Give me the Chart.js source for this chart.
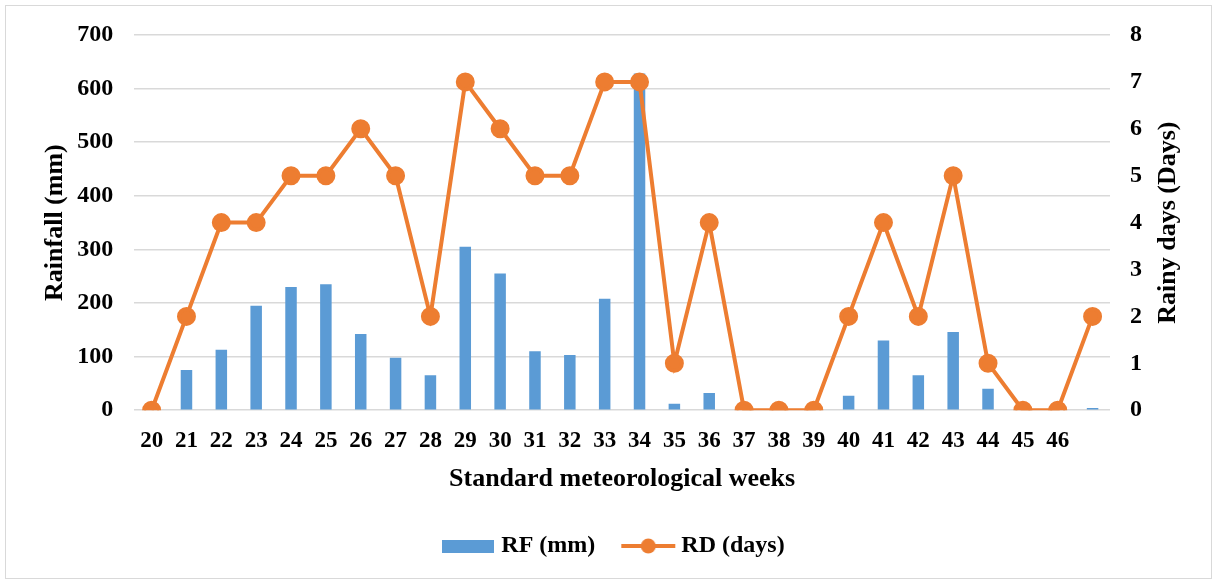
<!DOCTYPE html>
<html>
<head>
<meta charset="utf-8">
<script src="https://cdn.jsdelivr.net/npm/chart.js@4"></script>
<style>
  html, body { margin: 0; padding: 0; background: #fff; }
  #box {
    position: absolute; left: 5px; top: 5px;
    width: 1205px; height: 572px;
    border: 1px solid #d9d9d9;
  }
</style>
</head>
<body>
<div id="box"><canvas id="grafico"></canvas></div>
<script>
// Semanas meteorológicas (a última não tem rótulo)
const weeks = ["20","21","22","23","24","25","26","27","28","29","30","31","32","33",
  "34","35","36","37","38","39","40","41","42","43","44","45","46",""];
// Chuva semanal (mm)
const rainfall = [0, 75, 113, 195, 230, 235, 142, 98, 65, 305, 255, 110, 103, 208,
  628, 12, 32, 0, 0, 0, 27, 130, 65, 146, 40, 0, 0, 4];
// Dias de chuva
const rainyDays = [0, 2, 4, 4, 5, 5, 6, 5, 2, 7, 6, 5, 5, 7,
  7, 1, 4, 0, 0, 0, 2, 4, 2, 5, 1, 0, 0, 2];
const rfTicks = [0, 100, 200, 300, 400, 500, 600, 700];
const rdTicks = [0, 1, 2, 3, 4, 5, 6, 7, 8];

const blue = "#5b9bd5";
const orange = "#ed7d31";
const xFont = { family: "Liberation Serif", weight: "bold", size: 23 };
const yFont = { family: "Liberation Serif", weight: "bold", size: 24 };
const titleFont = { family: "Liberation Serif", weight: "bold", size: 26 };

// ícones da legenda
function barIcon() {
  const c = document.createElement("canvas");
  c.width = 52; c.height = 13;
  const g = c.getContext("2d");
  g.fillStyle = blue;
  g.fillRect(0, 0, 52, 13);
  return c;
}
function lineIcon() {
  const c = document.createElement("canvas");
  c.width = 56; c.height = 18;
  const g = c.getContext("2d");
  g.strokeStyle = orange;
  g.lineWidth = 4;
  g.beginPath(); g.moveTo(1, 9); g.lineTo(55, 9); g.stroke();
  g.fillStyle = orange;
  g.beginPath(); g.arc(28, 9, 7.5, 0, Math.PI * 2); g.fill();
  return c;
}
const icons = [barIcon(), lineIcon()];

// título do eixo direito, lido de baixo para cima
const rightTitle = {
  id: "rightTitle",
  afterDraw(chart) {
    const g = chart.ctx;
    g.save();
    g.translate(chart.width - 43, (chart.chartArea.top + chart.chartArea.bottom) / 2);
    g.rotate(-Math.PI / 2);
    g.font = "bold 26px 'Liberation Serif'";
    g.fillStyle = "#000";
    g.textAlign = "center";
    g.textBaseline = "middle";
    g.fillText("Rainy days (Days)", 0, 0);
    g.restore();
  },
};

// centra a legenda na página e não entre os paddings
const legendShift = {
  id: "legendShift",
  afterLayout(chart) {
    chart.legend.left += 25;
    chart.legend.right += 25;
  },
};

// o Chart.js reserva o padding dos ticks duas vezes; tira o excesso
const trimW = (axis) => {
  axis.width -= axis.options.ticks.padding;
  axis.paddingTop = 0;
};
const trimH = (axis) => { axis.height -= axis.options.ticks.padding; };

const ctx = document.getElementById("grafico").getContext("2d");

new Chart(ctx, {
  data: {
    labels: weeks,
    datasets: [
      {
        type: "line",
        label: "RD (days)",
        data: rainyDays,
        yAxisID: "y1",
        borderColor: orange,
        backgroundColor: orange,
        borderWidth: 4,
        pointRadius: 7.5,
        pointHoverRadius: 7.5,
        tension: 0,
        order: 1,
      },
      {
        type: "bar",
        label: "RF (mm)",
        data: rainfall,
        yAxisID: "y",
        backgroundColor: blue,
        barPercentage: 0.33,
        categoryPercentage: 1,
        order: 2,
      },
    ],
  },
  plugins: [rightTitle, legendShift],
  options: {
    responsive: true,
    maintainAspectRatio: false,
    animation: false,
    layout: { padding: { left: 34, right: 69, top: 29, bottom: 10 } },
    plugins: {
      tooltip: { enabled: false },
      legend: {
        position: "bottom",
        reverse: true,
        labels: {
          usePointStyle: true,
          pointStyleWidth: 42,
          color: "#000",
          font: yFont,
          padding: 32,
          generateLabels: (chart) => {
            const items = Chart.defaults.plugins.legend.labels.generateLabels(chart);
            items.forEach((it) => {
              it.pointStyle = it.datasetIndex === 1 ? icons[0] : icons[1];
            });
            return items;
          },
        },
      },
    },
    scales: {
      x: {
        grid: { display: false, drawTicks: false },
        border: { display: false },
        ticks: { color: "#000", font: xFont, maxRotation: 0, autoSkip: false, padding: 17 },
        afterFit: trimH,
        title: {
          display: true,
          text: "Standard meteorological weeks",
          color: "#000",
          font: titleFont,
          padding: { top: 9, bottom: 7 },
        },
      },
      y: {
        position: "left",
        min: 0,
        max: 700,
        afterBuildTicks: (axis) => { axis.ticks = rfTicks.map((v) => ({ value: v })); },
        afterFit: trimW,
        grid: { color: "#d9d9d9", lineWidth: 1.5, drawTicks: false },
        border: { display: false },
        ticks: { color: "#000", font: yFont, padding: 21 },
        title: {
          display: true,
          text: "Rainfall (mm)",
          color: "#000",
          font: titleFont,
          padding: { top: 0, bottom: 6 },
        },
      },
      y1: {
        position: "right",
        min: 0,
        max: 8,
        afterBuildTicks: (axis) => { axis.ticks = rdTicks.map((v) => ({ value: v })); },
        afterFit: trimW,
        grid: { display: false, drawTicks: false },
        border: { display: false },
        ticks: { color: "#000", font: yFont, padding: 20 },
      },
    },
  },
});
</script>
</body>
</html>
